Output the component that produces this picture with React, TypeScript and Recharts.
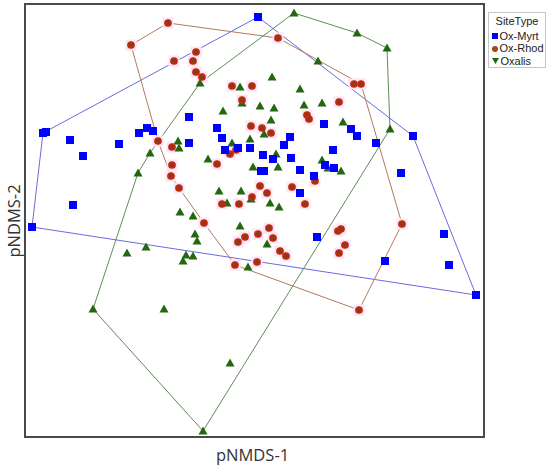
import { ReferenceArea, Scatter, ScatterChart, XAxis, YAxis } from "recharts";

// ordination scores (arbitrary units, no ticks in the original)
const oxMyrt = [
  [233, 420], [18, 304], [21, 305], [45, 297], [58, 281], [48, 232], [7, 210],
  [94, 293], [114, 304], [122, 309], [128, 306], [164, 320], [164, 294], [192, 309],
  [197, 299], [200, 287], [213, 289], [225, 289], [238, 282], [236, 266], [239, 266],
  [248, 278], [299, 313], [326, 308], [332, 301], [351, 294], [388, 301], [265, 300],
  [259, 292], [266, 279], [275, 267], [289, 261], [300, 272], [309, 269], [308, 287],
  [275, 244], [376, 264], [419, 203], [292, 200], [360, 176], [424, 172], [451, 142],
];

const oxRhod = [
  [143, 414], [106, 392], [171, 385], [149, 376], [168, 376], [171, 365], [177, 360],
  [207, 351], [227, 351], [217, 337], [226, 311], [237, 309], [246, 304], [133, 296],
  [147, 290], [147, 272], [146, 261], [154, 249], [192, 273], [205, 283], [211, 287],
  [235, 251], [242, 244], [227, 240], [214, 233], [197, 233], [179, 214], [233, 203],
  [244, 209], [248, 199], [253, 399], [329, 353], [336, 353], [314, 335], [282, 322],
  [284, 318], [267, 250], [290, 256], [280, 233], [377, 213], [313, 206], [316, 208],
  [320, 192], [314, 184], [255, 186], [261, 181], [232, 175], [220, 200], [213, 195],
  [334, 127], [210, 172],
];

const oxalis = [
  [269, 424], [332, 404], [362, 389], [365, 308], [293, 376], [275, 348], [279, 332],
  [297, 334], [318, 315], [297, 277], [303, 269], [316, 266], [253, 270], [254, 230],
  [247, 360], [215, 350], [235, 331], [249, 329], [246, 317], [239, 303], [225, 298],
  [217, 334], [251, 283], [228, 270], [175, 354], [198, 326], [153, 296], [154, 289],
  [125, 284], [113, 264], [183, 278], [207, 294], [194, 246], [216, 246], [202, 234],
  [226, 238], [245, 234], [155, 225], [168, 221], [215, 211], [170, 203], [172, 196],
  [121, 190], [102, 184], [161, 182], [168, 181], [158, 176], [223, 170], [242, 193],
  [68, 128], [139, 128], [205, 74], [178, 6],
];

const siteTypes = ["Ox-Myrt", "Ox-Rhod", "Oxalis"];

const toPts = (arr: number[][]) => arr.map(([x, y]) => ({ x, y }));

// monotone chain convex hull, closed loop
function hull(arr: number[][]) {
  const p = [...arr].sort((a, b) => a[0] - b[0] || a[1] - b[1]);
  const cross = (o: number[], a: number[], b: number[]) =>
    (a[0] - o[0]) * (b[1] - o[1]) - (a[1] - o[1]) * (b[0] - o[0]);
  const lower: number[][] = [];
  for (const q of p) {
    while (lower.length >= 2 && cross(lower[lower.length - 2], lower[lower.length - 1], q) <= 0) lower.pop();
    lower.push(q);
  }
  const upper: number[][] = [];
  for (const q of [...p].reverse()) {
    while (upper.length >= 2 && cross(upper[upper.length - 2], upper[upper.length - 1], q) <= 0) upper.pop();
    upper.push(q);
  }
  const h = lower.slice(0, -1).concat(upper.slice(0, -1));
  return toPts([...h, h[0]]);
}

const blue = "#0000ff";
const green = "#23670f";
const brown = "#8f3a10";

const Square = ({ cx, cy }: any) => (
  <rect x={cx - 4} y={cy - 4} width={8} height={8} fill={blue} />
);
const Dot = ({ cx, cy }: any) => (
  <circle cx={cx} cy={cy} r={3.3} fill={brown} stroke="#e0201a" strokeWidth={1.1} />
);
const Halo = ({ cx, cy }: any) => (
  <rect x={cx - 5.5} y={cy - 5.5} width={11} height={11} fill="#fce6f3" />
);
const Tri = ({ cx, cy }: any) => (
  <polygon points={`${cx},${cy - 4.5} ${cx + 4.5},${cy + 3.5} ${cx - 4.5},${cy + 3.5}`} fill={green} />
);
const Nothing = () => <g />;

function LegendBox() {
  const row = { display: "flex", alignItems: "center", height: 12.5, whiteSpace: "nowrap" } as const;
  return (
    <div
      style={{
        position: "absolute",
        left: 488,
        top: 12,
        width: 58,
        height: 56,
        boxSizing: "border-box",
        border: "1px solid #c4c4c4",
        background: "#fff",
        fontFamily: "Liberation Sans, Arial, sans-serif",
        fontSize: 11,
        color: "#222",
        padding: "3px 0 0 3px",
        lineHeight: 1,
      }}
    >
      <div style={{ textAlign: "center", marginBottom: 3, marginLeft: -3 }}>SiteType</div>
      <div style={row}>
        <span style={{ width: 6, height: 6, background: blue, marginRight: 1.5, flex: "none" }} />
        {siteTypes[0]}
      </div>
      <div style={row}>
        <span style={{ width: 6, height: 6, borderRadius: 3, background: "#9a4a1c", marginRight: 1.5, flex: "none" }} />
        {siteTypes[1]}
      </div>
      <div style={row}>
        <svg width={7} height={6} style={{ marginRight: 1.5, flex: "none" }}>
          <polygon points="0,0 7,0 3.5,6" fill={green} />
        </svg>
        {siteTypes[2]}
      </div>
    </div>
  );
}

export default function App() {
  const labelFont = { fontFamily: "Open Sans, sans-serif", fontSize: 16.5, color: "#333" };
  return (
    <div style={{ position: "fixed", left: 0, top: 0, width: 550, height: 469, background: "#fff" }}>
      <ScatterChart width={550} height={469} margin={{ top: 4, right: 66, bottom: 32, left: 25 }}>
        <XAxis type="number" dataKey="x" domain={[0, 459]} hide />
        <YAxis type="number" dataKey="y" domain={[0, 433]} hide />
        <ReferenceArea x1={0} x2={459} y1={0} y2={433} fill="none" stroke="#4a4a4a" strokeWidth={2} />
        <Scatter data={hull(oxMyrt)} line={{ stroke: "#6a6ae0", strokeWidth: 1 }} shape={Nothing} isAnimationActive={false} />
        <Scatter data={hull(oxRhod)} line={{ stroke: "#b27a5c", strokeWidth: 1 }} shape={Nothing} isAnimationActive={false} />
        <Scatter data={hull(oxalis)} line={{ stroke: "#5e8c56", strokeWidth: 1 }} shape={Nothing} isAnimationActive={false} />
        <Scatter data={toPts(oxRhod)} shape={Halo} isAnimationActive={false} />
        <Scatter name={siteTypes[2]} data={toPts(oxalis)} shape={Tri} isAnimationActive={false} />
        <Scatter name={siteTypes[1]} data={toPts(oxRhod)} shape={Dot} isAnimationActive={false} />
        <Scatter name={siteTypes[0]} data={toPts(oxMyrt)} shape={Square} isAnimationActive={false} />
      </ScatterChart>
      <div style={{ ...labelFont, position: "absolute", left: 216, top: 443, whiteSpace: "nowrap" }}>pNMDS-1</div>
      <div
        style={{
          ...labelFont,
          position: "absolute",
          left: 13,
          top: 221,
          whiteSpace: "nowrap",
          transform: "translate(-50%, -50%) rotate(-90deg)",
        }}
      >
        pNDMS-2
      </div>
      <LegendBox />
    </div>
  );
}
